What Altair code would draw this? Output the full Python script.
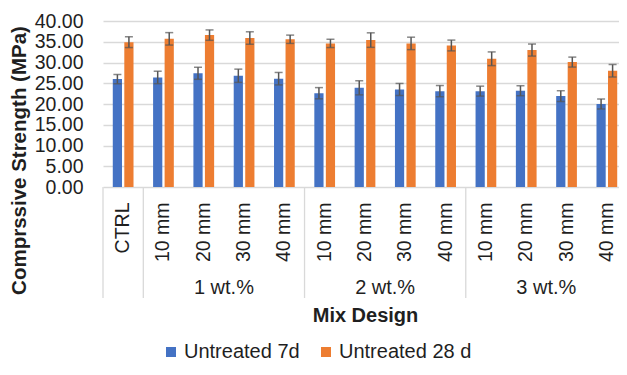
import altair as alt
import pandas as pd

# ---- data ----
groups = ["", "1 wt.%", "1 wt.%", "1 wt.%", "1 wt.%", "2 wt.%", "2 wt.%", "2 wt.%", "2 wt.%",
          "3 wt.%", "3 wt.%", "3 wt.%", "3 wt.%"]
sublabels = ["CTRL", "10 mm", "20 mm", "30 mm", "40 mm", "10 mm", "20 mm", "30 mm", "40 mm",
             "10 mm", "20 mm", "30 mm", "40 mm"]
series_names = ["Untreated 7d", "Untreated 28 d"]
strength_7d = [26.0, 26.4, 27.4, 26.8, 26.1, 22.6, 23.9, 23.5, 23.1, 23.1, 23.2, 21.9, 20.0]
error_7d = [1.1, 1.5, 1.45, 1.6, 1.5, 1.35, 1.7, 1.45, 1.35, 1.2, 1.2, 1.3, 1.2]
strength_28d = [34.9, 35.7, 36.6, 35.9, 35.6, 34.6, 35.4, 34.6, 34.1, 30.9, 33.0, 30.1, 28.0]
error_28d = [1.3, 1.5, 1.25, 1.5, 1.0, 1.0, 1.75, 1.5, 1.3, 1.65, 1.45, 1.2, 1.5]
group_names = ["1 wt.%", "2 wt.%", "3 wt.%"]
y_ticks = [0, 5, 10, 15, 20, 25, 30, 35, 40]
colors = ["#4472C4", "#ED7D31"]

keys = [f"{g}|{s}" for g, s in zip(groups, sublabels)]

rows = []
for k, v, e in zip(keys, strength_7d, error_7d):
    rows.append({"key": k, "series": series_names[0], "value": v, "err": e})
for k, v, e in zip(keys, strength_28d, error_28d):
    rows.append({"key": k, "series": series_names[1], "value": v, "err": e})
df = pd.DataFrame(rows)

centre_keys = [f"{g}|20 mm" for g in group_names]
df_groups = pd.DataFrame({"key": centre_keys, "group": group_names})
sep_keys = [keys[0]] + [f"{g}|10 mm" for g in group_names]
df_sep = pd.DataFrame({"key": sep_keys})

W, H = 516, 166          # view size
RANGE_W = 524            # band range (plot runs to the picture's right edge)
FONT = "Liberation Sans"
TXT = "#1f1f1f"

xscale = alt.Scale(domain=keys, paddingInner=0, paddingOuter=0, range=[0, RANGE_W])
yscale = alt.Scale(domain=[0, 40], nice=False)
xoff = alt.XOffset("series:N", sort=series_names,
                   scale=alt.Scale(paddingInner=0.2, paddingOuter=0.85))

xaxis = alt.Axis(labelExpr="split(datum.value, '|')[1]", labelAngle=270,
                 labelAlign="right", labelBaseline="middle", labelPadding=15,
                 labelFontSize=19.5, labelFont=FONT, labelColor=TXT,
                 ticks=False, domain=False, grid=False,
                 title="Mix Design", titleFont=FONT, titleFontSize=20,
                 titleFontWeight="bold", titleColor=TXT,
                 titleX=262, titleY=128, titleAlign="center",
                 titleBaseline="middle", titleAnchor="start")
yaxis = alt.Axis(values=y_ticks, format=".2f", labelFontSize=19.5, labelFont=FONT,
                 labelColor=TXT, labelPadding=20, labelOverlap=False,
                 ticks=False, domain=False, tickCount=9,
                 gridColor="#D9D9D9", gridWidth=1.3,
                 title="Comprssive Strength (MPa)", titleFont=FONT,
                 titleFontSize=20.5, titleFontWeight="bold", titleColor=TXT,
                 titleAngle=270, titleAlign="center", titleBaseline="middle",
                 titleAnchor="start", titleX=-84, titleY=139)

X = alt.X("key:N", scale=xscale, sort=keys, axis=xaxis)

base = alt.Chart(df).transform_calculate(
    lo="datum.value - datum.err", hi="datum.value + datum.err"
)

bars = base.mark_bar().encode(
    x=X,
    xOffset=xoff,
    y=alt.Y("value:Q", scale=yscale, axis=yaxis),
    color=alt.Color("series:N", sort=series_names,
                    scale=alt.Scale(domain=series_names, range=colors),
                    legend=alt.Legend(title=None, orient="none", direction="horizontal",
                                      legendX=58, legendY=321, padding=0,
                                      symbolType="square",
                                      symbolSize=100, symbolStrokeWidth=0,
                                      labelFontSize=20, labelFont=FONT, labelColor=TXT,
                                      columnPadding=16, labelOffset=3)),
)

err_rule = base.mark_rule(color="#555555", strokeWidth=1.5).encode(
    x=X, xOffset=xoff,
    y=alt.Y("lo:Q", scale=yscale, axis=yaxis),
    y2="hi:Q",
)
cap_lo = base.mark_tick(color="#555555", thickness=1.5, size=8).encode(
    x=X, xOffset=xoff, y=alt.Y("lo:Q", scale=yscale, axis=yaxis))
cap_hi = base.mark_tick(color="#555555", thickness=1.5, size=8).encode(
    x=X, xOffset=xoff, y=alt.Y("hi:Q", scale=yscale, axis=yaxis))

group_text = alt.Chart(df_groups).mark_text(
    fontSize=20, font=FONT, color=TXT, align="center", baseline="middle"
).encode(
    x=alt.X("key:N", scale=xscale, sort=keys, bandPosition=1, axis=xaxis),
    y=alt.value(H + 101),
    text="group:N",
)

seps = alt.Chart(df_sep).mark_rule(color="#D9D9D9", strokeWidth=1.3).encode(
    x=alt.X("key:N", scale=xscale, sort=keys, bandPosition=0, axis=xaxis),
    y=alt.value(H),
    y2=alt.value(H + 111),
)

chart = alt.layer(bars, err_rule, cap_lo, cap_hi, seps, group_text).properties(
    width=W, height=H,
    autosize=alt.AutoSizeParams(type="none"),
    padding={"left": 95, "right": 0, "top": 13, "bottom": 175},
).configure_view(stroke=None)

chart.save("out.html", embed_options={"renderer": "svg", "actions": False})
